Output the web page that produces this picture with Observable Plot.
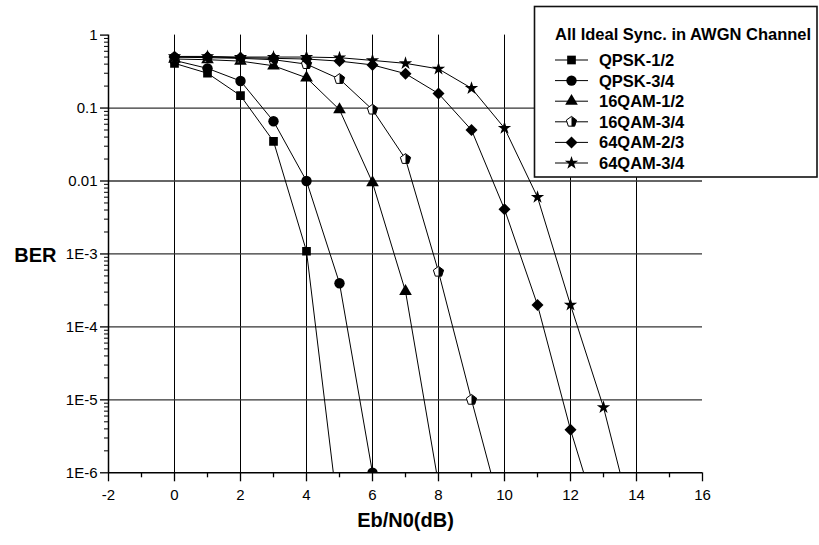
<!DOCTYPE html>
<html>
<head>
<meta charset="utf-8">
<script src="https://cdn.jsdelivr.net/npm/d3@7"></script>
<script src="https://cdn.jsdelivr.net/npm/@observablehq/plot@0.6"></script>
<style>
  html, body { margin: 0; padding: 0; background: #fff; }
  #chart { width: 819px; height: 545px; }
</style>
</head>
<body>
<div id="chart"></div>
<script>
// ---------- data ----------
const ebn0 = [0, 1, 2, 3, 4, 5, 6, 7, 8, 9, 10, 11, 12, 13, 14];
const seriesNames = ["QPSK-1/2", "QPSK-3/4", "16QAM-1/2", "16QAM-3/4", "64QAM-2/3", "64QAM-3/4"];
const berQPSK12  = [0.41, 0.30, 0.148, 0.035, 1.09e-3, 2e-7];
const berQPSK34  = [0.45, 0.35, 0.235, 0.066, 0.01, 3.97e-4, 1e-6];
const ber16QAM12 = [0.47, 0.46, 0.44, 0.38, 0.26, 0.095, 0.0095, 3.07e-4, 7e-7];
const ber16QAM34 = [0.50, 0.49, 0.48, 0.46, 0.40, 0.25, 0.095, 0.020, 5.7e-4, 1e-5, 2e-7];
const ber64QAM23 = [0.50, 0.50, 0.49, 0.48, 0.47, 0.44, 0.39, 0.296, 0.158, 0.05, 0.0041, 2e-4, 3.9e-6, 1.3e-7];
const ber64QAM34 = [0.51, 0.51, 0.50, 0.50, 0.50, 0.49, 0.45, 0.41, 0.344, 0.187, 0.053, 0.006, 2e-4, 7.9e-6, 1.3e-7];
const seriesValues = [berQPSK12, berQPSK34, ber16QAM12, ber16QAM34, ber64QAM23, ber64QAM34];

const xTicks = [-2, 0, 2, 4, 6, 8, 10, 12, 14, 16];
const xTickLabels = ["-2", "0", "2", "4", "6", "8", "10", "12", "14", "16"];
const xMinorTicks = [-1, 1, 3, 5, 7, 9, 11, 13, 15];
const xGrid = [0, 2, 4, 6, 8, 10, 12, 14];
const yTicks = [1, 0.1, 0.01, 1e-3, 1e-4, 1e-5, 1e-6];
const yTickLabels = ["1", "0.1", "0.01", "1E-3", "1E-4", "1E-5", "1E-6"];
const yGrid = [0.1, 0.01, 1e-3, 1e-4, 1e-5];
const xLabel = "Eb/N0(dB)";
const yLabel = "BER";
const legendTitle = "All Ideal Sync. in AWGN Channel";

// ---------- symbols ----------
function pentPoints(R) {
  const pts = [];
  for (let k = 0; k < 5; k++) {
    const a = k * 2 * Math.PI / 5;
    pts.push([R * Math.sin(a), -R * Math.cos(a)]);
  }
  return pts;
}
const pentagonSym = {
  draw(ctx, size) {
    const R = Math.sqrt(size / Math.PI);
    const p = pentPoints(R);
    ctx.moveTo(p[0][0], p[0][1]);
    for (let k = 1; k < 5; k++) ctx.lineTo(p[k][0], p[k][1]);
    ctx.closePath();
  }
};
const halfPentagonSym = {
  draw(ctx, size) {
    const R = Math.sqrt(size / Math.PI);
    const p = pentPoints(R);
    ctx.moveTo(p[0][0], p[0][1]);
    ctx.lineTo(p[1][0], p[1][1]);
    ctx.lineTo(p[2][0], p[2][1]);
    ctx.lineTo(0, p[2][1]);
    ctx.closePath();
  }
};
const diamondSym = {
  draw(ctx, size) {
    const r = Math.sqrt(size) * 0.62625;
    ctx.moveTo(0, -r); ctx.lineTo(r, 0); ctx.lineTo(0, r); ctx.lineTo(-r, 0); ctx.closePath();
  }
};

const styles = [
  {symbol: d3.symbolSquare, r: 4.9},
  {symbol: d3.symbolCircle, r: 5.2},
  {symbol: d3.symbolTriangle, r: 4.7},
  {symbol: pentagonSym, r: 5.4, half: halfPentagonSym},
  {symbol: diamondSym, r: 5.4},
  {symbol: d3.symbolStar, r: 4.2}
];

// ---------- table ----------
const rows = [];
seriesNames.forEach((name, s) => {
  seriesValues[s].forEach((v, i) => rows.push({series: name, x: ebn0[i], ber: v}));
});

const font = "'Liberation Sans', Arial, Helvetica, sans-serif";

const dotMarks = [];
seriesNames.forEach((name, s) => {
  const st = styles[s];
  const data = rows.filter(d => d.series === name);
  if (st.half) {
    dotMarks.push(Plot.dot(data, {x: "x", y: "ber", symbol: st.symbol, r: st.r, fill: "#fff", stroke: "#000", strokeWidth: 1, clip: true}));
    dotMarks.push(Plot.dot(data, {x: "x", y: "ber", symbol: st.half, r: st.r, fill: "#000", stroke: "none", clip: true}));
  } else {
    dotMarks.push(Plot.dot(data, {x: "x", y: "ber", symbol: st.symbol, r: st.r, fill: "#000", stroke: "none", clip: true}));
  }
});

const plot = Plot.plot({
  width: 819,
  height: 545,
  marginLeft: 108,
  marginRight: 117,
  marginTop: 34.6,
  marginBottom: 72.7,
  style: {fontFamily: font, fontSize: "15px", color: "#000", background: "#fff", overflow: "visible"},
  x: {domain: [-2, 16], label: null},
  y: {type: "log", domain: [1e-6, 1], label: null},
  marks: [
    Plot.ruleX(xGrid, {stroke: "#000", strokeWidth: 1}),
    Plot.ruleY(yGrid, {stroke: "#333", strokeWidth: 1.3}),
    Plot.axisX(xTicks, {tickSize: 9, tickPadding: 8, fontSize: 15, strokeWidth: 1.3, label: null,
      tickFormat: (d) => xTickLabels[xTicks.indexOf(d)]}),
    Plot.axisX(xMinorTicks, {tickSize: 5, tickFormat: () => "", strokeWidth: 1.3, label: null}),
    Plot.axisY(yTicks, {tickSize: 8, tickPadding: 3, fontSize: 15, strokeWidth: 1.3, label: null,
      tickFormat: (d) => yTickLabels[yTicks.indexOf(d)]}),
    Plot.axisY(d3.range(-6, 0).flatMap(e => d3.range(2, 10).map(m => m * Math.pow(10, e))),
      {tickSize: 4, tickFormat: () => "", strokeWidth: 1, label: null}),
    Plot.ruleX([-2], {stroke: "#000", strokeWidth: 1.5}),
    Plot.ruleY([1e-6], {stroke: "#000", strokeWidth: 1.5}),
    Plot.line(rows, {x: "x", y: "ber", z: "series", stroke: "#000", strokeWidth: 1, clip: true}),
    ...dotMarks,
    Plot.text([yLabel], {text: d => d, frameAnchor: "left", dx: -52, dy: 2, textAnchor: "end",
      fontWeight: "bold", fontSize: 20}),
    Plot.text([xLabel], {text: d => d, frameAnchor: "bottom", dy: 54,
      fontWeight: "bold", fontSize: 20})
  ]
});

document.getElementById("chart").appendChild(plot);

// ---------- legend (inside plot area, drawn onto the same SVG) ----------
const svg = d3.select(plot);
const lg = svg.append("g").attr("font-family", font).attr("text-anchor", "start");
lg.append("rect")
  .attr("x", 534.5).attr("y", 6.5).attr("width", 282.5).attr("height", 170.5)
  .attr("fill", "#fff").attr("stroke", "#111").attr("stroke-width", 1.6);
lg.append("text")
  .attr("x", 555).attr("y", 34).attr("dy", "0.36em").attr("text-anchor", "start")
  .attr("font-size", 16.5).attr("font-weight", "bold").attr("fill", "#000")
  .text(legendTitle);
const rowY0 = 60, rowStep = 20.6;
seriesNames.forEach((name, s) => {
  const st = styles[s];
  const y = rowY0 + s * rowStep;
  lg.append("line").attr("x1", 555).attr("x2", 588).attr("y1", y).attr("y2", y)
    .attr("stroke", "#000").attr("stroke-width", 1);
  const size = Math.PI * st.r * st.r;
  if (st.half) {
    lg.append("path").attr("transform", `translate(571.5,${y})`)
      .attr("d", d3.symbol(st.symbol, size)()).attr("fill", "#fff").attr("stroke", "#000");
    lg.append("path").attr("transform", `translate(571.5,${y})`)
      .attr("d", d3.symbol(st.half, size)()).attr("fill", "#000");
  } else {
    lg.append("path").attr("transform", `translate(571.5,${y})`)
      .attr("d", d3.symbol(st.symbol, size)()).attr("fill", "#000");
  }
  lg.append("text").attr("x", 599).attr("y", y).attr("dy", "0.36em").attr("text-anchor", "start")
    .attr("font-size", 16.5).attr("font-weight", "bold").attr("fill", "#000")
    .text(name);
});
</script>
</body>
</html>
